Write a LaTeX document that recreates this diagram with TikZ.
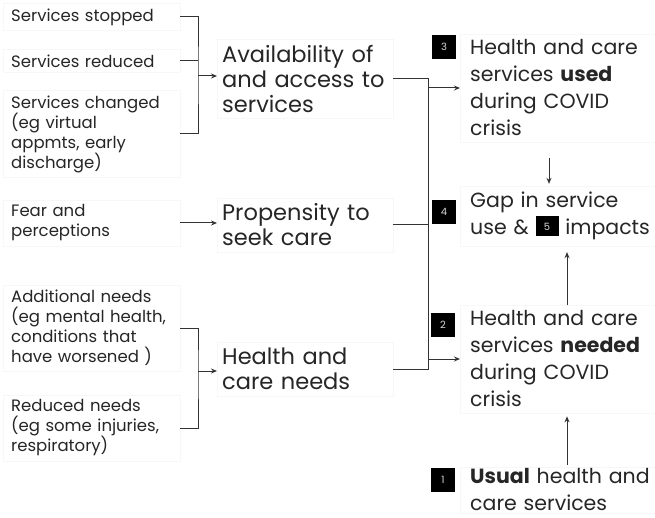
\documentclass[tikz,border=0pt]{standalone}
\usepackage{fontspec}
\setmainfont{Poppins}
\usepackage{xcolor}
\usetikzlibrary{arrows.meta}

\newcommand{\smallfont}{\fontsize{16.5}{20}\selectfont}
\newcommand{\midfont}{\fontsize{22.5}{25}\selectfont}
\newcommand{\bigfont}{\fontsize{20.5}{27}\selectfont}
\newcommand{\inlinebadge}[1]{{\setlength{\fboxsep}{0pt}\colorbox{black}{\makebox[23pt]{\rule[-1pt]{0pt}{20pt}\raisebox{4pt}{\color{white!85!black}\fontsize{10}{10}\selectfont #1}}}}}

\tikzset{
  leftbox/.style={draw=black!3, anchor=west, align=left, text width=161pt,
    inner xsep=8pt, inner ysep=5pt, font=\smallfont, text=black!85},
  midbox/.style={draw=black!3, anchor=west, align=left, text width=166pt,
    inner xsep=5pt, inner ysep=6pt, font=\midfont, text=black!85},
  rightbox/.style={draw=black!3, anchor=west, align=left, text width=190pt,
    inner xsep=10pt, inner ysep=6pt, font=\bigfont, text=black!85},
  badge/.style={fill=black, text=white!85!black, minimum size=24pt, inner sep=0pt,
    font=\fontsize{10}{10}\selectfont},
  line/.style={draw=black!80, line width=1pt},
  arr/.style={line, -{Stealth[length=6pt, width=5pt]}}
}

\begin{document}
\begin{tikzpicture}[x=1pt, y=-1pt]
  \useasboundingbox[fill=white] (0,0) rectangle (655,518);

  % drivers on the left
  \node[leftbox] (stopped) at (3,17) {Services stopped};
  \node[leftbox] (reduced) at (3,61) {Services reduced};
  \node[leftbox] (changed) at (3,134) {Services changed\\(eg virtual\\appmts, early\\discharge)};
  \node[leftbox] (fear) at (3,223) {Fear and\\perceptions};
  \node[leftbox] (addneeds) at (3,328) {Additional needs\\(eg mental health,\\conditions that\\have worsened )};
  \node[leftbox] (redneeds) at (3,428) {Reduced needs\\(eg some injuries,\\respiratory)};

  % middle column
  \node[midbox] (avail) at (217,79) {Availability of\\and access to\\services};
  \node[midbox] (propens) at (217,225) {Propensity to\\seek care};
  \node[midbox] (hcneeds) at (217,369) {Health and\\care needs};

  % right column
  \node[rightbox] (used) at (460,88) {Health and care\\services \textbf{used}\\during COVID\\crisis};
  \node[rightbox] (gap) at (460,216) {Gap in service\\use \& \inlinebadge{5} impacts};
  \node[rightbox] (needed) at (460,359) {Health and care\\services \textbf{needed}\\during COVID\\crisis};
  \node[rightbox, inner ysep=2pt] (usual) at (460,490) {\textbf{Usual} health and\\care services};

  \node[badge] (b3) at (444,47) {3};
  \node[badge] (b4) at (444,212) {4};
  \node[badge] (b2) at (443,325) {2};
  \node[badge] (b1) at (443,480) {1};

  \coordinate (brk1) at (198,76);
  \coordinate (brk2) at (198,371);
  \coordinate (jn) at (428,0);
  \coordinate (colA) at (549,0);
  \coordinate (colB) at (567,0);

  % brackets
  \draw[line] (stopped.east) -| (brk1) |- (changed.east);
  \draw[line] (reduced.east) -- (reduced.east -| brk1);
  \draw[arr] (brk1) -- (brk1 -| avail.west);
  \draw[arr] (fear.east) -- (fear.east -| propens.west);
  \draw[line] (addneeds.east) -| (brk2) |- (redneeds.east);
  \draw[arr] (brk2) -- (brk2 -| hcneeds.west);

  % join into services
  \draw[line] (avail.east) -| (hcneeds.east -| jn) -- (hcneeds.east);
  \draw[line] (propens.east) -- (propens.east -| jn);
  \draw[arr] (used.west -| jn) -- (used.west);
  \draw[arr] (needed.west -| jn) -- (needed.west);

  \draw[arr, shorten <=16pt, shorten >=2pt] (used.south -| colA) -- (gap.north -| colA);
  \draw[arr, shorten >=6pt] (needed.north -| colB) -- (gap.south -| colB);
  \draw[arr, shorten <=2pt, shorten >=3pt] (usual.north -| colB) -- (needed.south -| colB);
\end{tikzpicture}
\end{document}
